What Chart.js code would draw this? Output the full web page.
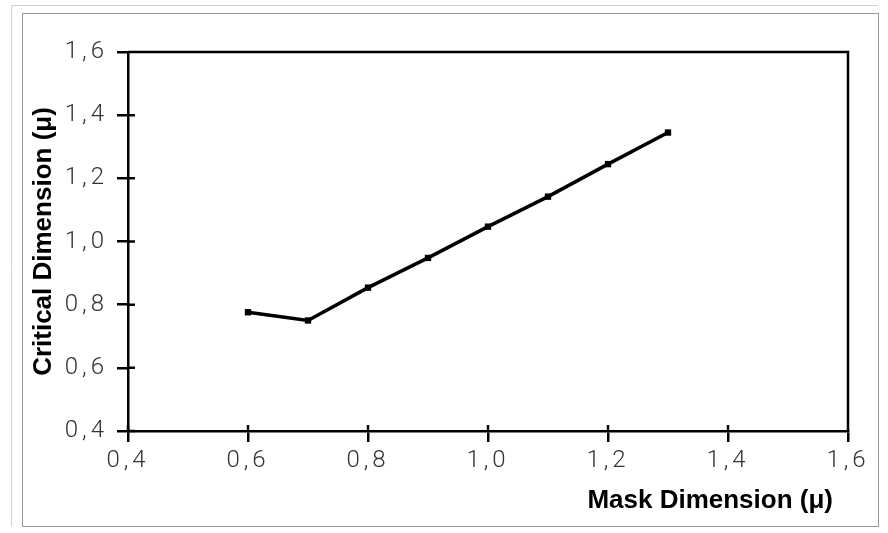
<!DOCTYPE html>
<html>
<head>
<meta charset="utf-8">
<script src="https://cdn.jsdelivr.net/npm/chart.js@4"></script>
<style>
  html, body { margin: 0; padding: 0; background: #fff; }
  #wrap { width: 888px; height: 533px; }
</style>
</head>
<body>
<div id="wrap"><canvas id="cdChart"></canvas></div>
<script>
const maskDim = [0.6, 0.7, 0.8, 0.9, 1.0, 1.1, 1.2, 1.3];
const criticalDim = [0.776, 0.750, 0.854, 0.948, 1.047, 1.142, 1.245, 1.345];
const xTicks = [0.4, 0.6, 0.8, 1.0, 1.2, 1.4, 1.6];
const yTicks = [0.4, 0.6, 0.8, 1.0, 1.2, 1.4, 1.6];
const xTitle = 'Mask Dimension (\u03bc)';
const yTitle = 'Critical Dimension (\u03bc)';

const points = maskDim.map((m, i) => ({x: m, y: criticalDim[i]}));
const fmt = v => v.toFixed(1).replace('.', ',');
const tickFont = {family: 'Roboto', weight: 300, size: 24};
const titleCss = 'bold 26px "Liberation Sans", Arial';

// page frame, box top/right, inner half of the tick marks and the axis titles
const framePlugin = {
  id: 'framePlugin',
  beforeDraw(chart) {
    const ctx = chart.ctx;
    ctx.save();
    ctx.strokeStyle = '#9a9a9a';
    ctx.lineWidth = 1;
    ctx.strokeRect(22.5, 13.5, 856, 513);
    ctx.strokeStyle = '#d0d0d0';
    ctx.beginPath();
    ctx.moveTo(11.5, 526); ctx.lineTo(11.5, 5.5); ctx.lineTo(878, 5.5);
    ctx.stroke();
    ctx.restore();
    // wide spacing of the tick numbers, like the scan
    ctx.letterSpacing = '4px';
  },
  beforeDatasetsDraw(chart) {
    chart.ctx.letterSpacing = '0px';
  },
  afterDraw(chart) {
    const {ctx, chartArea: a, scales: {x, y}} = chart;
    ctx.save();
    ctx.letterSpacing = '0px';
    ctx.strokeStyle = '#000';
    ctx.lineWidth = 2.5;
    ctx.beginPath();
    ctx.moveTo(a.left, a.top); ctx.lineTo(a.right, a.top); ctx.lineTo(a.right, a.bottom);
    xTicks.forEach(v => { const px = x.getPixelForValue(v); ctx.moveTo(px, a.bottom); ctx.lineTo(px, a.bottom - 6); });
    yTicks.forEach(v => { const py = y.getPixelForValue(v); ctx.moveTo(a.left, py); ctx.lineTo(a.left + 7, py); });
    ctx.stroke();
    ctx.font = titleCss;
    ctx.fillStyle = '#000';
    ctx.textBaseline = 'middle';
    ctx.textAlign = 'right';
    ctx.fillText(xTitle, a.right - 15, a.bottom + 70);
    ctx.translate(44, (a.top + a.bottom) / 2);
    ctx.rotate(-Math.PI / 2);
    ctx.textAlign = 'center';
    ctx.fillText(yTitle, 0, 0);
    ctx.restore();
  }
};

new Chart(document.getElementById('cdChart'), {
  type: 'scatter',
  data: {
    datasets: [{
      data: points,
      showLine: true,
      borderColor: '#000',
      backgroundColor: '#000',
      borderWidth: 3.5,
      pointStyle: 'rect',
      pointRadius: 4.5,
      pointBorderWidth: 0
    }]
  },
  options: {
    responsive: true,
    maintainAspectRatio: false,
    animation: false,
    devicePixelRatio: 1,
    layout: {padding: {top: 52, right: 40, left: 0, bottom: 0}},
    plugins: {legend: {display: false}, tooltip: {enabled: false}},
    scales: {
      x: {
        type: 'linear',
        min: 0.4, max: 1.6,
        afterBuildTicks: s => { s.ticks = xTicks.map(v => ({value: v})); },
        afterFit: s => { s.height = 102; },
        grid: {drawOnChartArea: false, tickLength: 11, color: '#000', lineWidth: 2.5},
        border: {color: '#000', width: 2.5},
        ticks: {color: '#333', font: tickFont, padding: 5, maxRotation: 0, callback: v => fmt(v)},
        title: {display: false}
      },
      y: {
        type: 'linear',
        min: 0.4, max: 1.6,
        afterBuildTicks: s => { s.ticks = yTicks.map(v => ({value: v})); },
        afterFit: s => { s.width = 128; },
        grid: {drawOnChartArea: false, tickLength: 11, color: '#000', lineWidth: 2.5},
        border: {color: '#000', width: 2.5},
        ticks: {color: '#333', font: tickFont, padding: 9, callback: v => fmt(v)},
        title: {display: false}
      }
    }
  },
  plugins: [framePlugin]
});
</script>
</body>
</html>
